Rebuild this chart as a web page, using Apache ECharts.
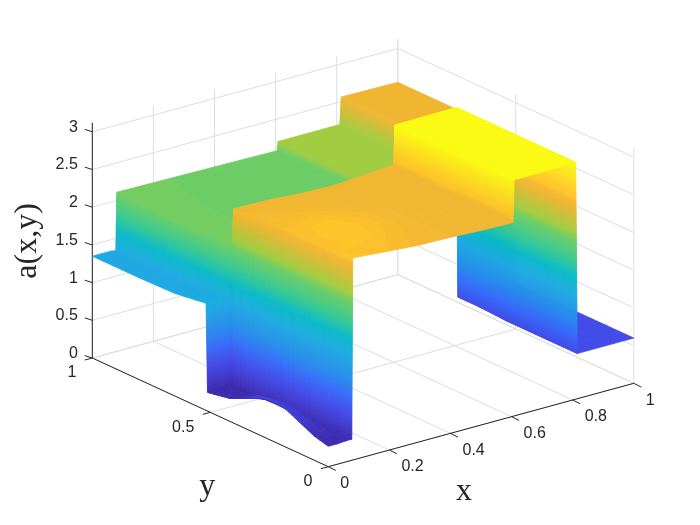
<!DOCTYPE html>
<html><head><meta charset="utf-8">
<style>html,body{margin:0;padding:0;background:#fff}#c{width:700px;height:525px}</style>
<script src="https://cdn.jsdelivr.net/npm/echarts@6/dist/echarts.min.js"></script>
</head><body><div id="c"></div>
<script>
// ---- data ----
const xGrid = [0, .03, .06, .077, .08, .2, .3, .4, .5, .605, .608, .81, .815, 1];
const yGrid = [0, .06, .12, .18, .25, .3, .35, .42, .47, .505, .512, .518, .65, .8, 1];
const heightRows = [
 [.27,.27,.28,.28, 2.68,2.64,2.61,2.6,2.58,2.57, 3.13,3.14, .6,.6],
 [.32,.31,.30,.28, 2.66,2.65,2.62,2.6,2.58,2.57, 3.13,3.14, .6,.6],
 [.41,.38,.34,.28, 2.65,2.67,2.63,2.6,2.58,2.57, 3.13,3.14, .6,.6],
 [.50,.45,.38,.28, 2.65,2.68,2.64,2.6,2.58,2.57, 3.13,3.14, .6,.6],
 [.53,.47,.40,.28, 2.65,2.67,2.63,2.6,2.58,2.57, 3.13,3.14, .6,.6],
 [.51,.45,.38,.28, 2.64,2.65,2.62,2.59,2.57,2.57, 3.13,3.14, .6,.6],
 [.40,.37,.33,.28, 2.63,2.63,2.6,2.58,2.57,2.57, 3.13,3.14, .61,.6],
 [.30,.29,.28,.28, 2.61,2.6,2.58,2.57,2.57,2.58, 3.13,3.14, .62,.6],
 [.27,.26,.27,.28, 2.6,2.58,2.57,2.56,2.57,2.59, 3.13,3.14, .62,.6],
 [.25,.25,.26,.28, 2.6,2.59,2.56,2.55,2.57,2.6, 3.13,3.14, .62,.6],
 [.25,.25,.26,.28, 2.1,2.1,2.1,2.1,2.09,2.09, 2.2,2.2, 2.55,2.55],
 [1.42,1.41,1.4,1.39, 2.1,2.1,2.1,2.1,2.09,2.09, 2.2,2.2, 2.55,2.55],
 [1.36,1.36,1.36,1.35, 2.1,2.1,2.1,2.09,2.09,2.085, 2.2,2.2, 2.55,2.55],
 [1.35,1.35,1.35,1.34, 2.105,2.1,2.095,2.09,2.085,2.08, 2.2,2.2, 2.56,2.55],
 [1.35,1.35,1.35,1.34, 2.11,2.103,2.097,2.092,2.086,2.08, 2.2,2.2, 2.56,2.55]
];
const xTicks = [0, .2, .4, .6, .8, 1];
const xTickLabels = ['0', '0.2', '0.4', '0.6', '0.8', '1'];
const yTicks = [0, .5, 1];
const yTickLabels = ['0', '0.5', '1'];
const zTicks = [0, .5, 1, 1.5, 2, 2.5, 3];
const zTickLabels = ['0', '0.5', '1', '1.5', '2', '2.5', '3'];
const zMax = 3.12;
const xName = 'x', yName = 'y', zName = 'a(x,y)';

// ---- colour scale and view ----
const colorZ = [.22,.4,.6,.85,1.05,1.37,1.6,1.8,2.1,2.2,2.4,2.55,2.6,2.67,2.85,3.13];
const colorRGB = [[58,38,165],[65,55,200],[68,75,232],[55,110,250],[40,140,235],[30,170,225],[10,185,200],[50,200,150],[110,205,100],[160,205,65],[205,190,55],[240,182,50],[242,183,50],[255,196,42],[252,215,35],[250,250,20]];
const O = [328.3, 466.7], VX = [305.5, -83.4], VY = [-236, -108.7], VZ = -75.4;
function project(x, y, z) {
  return [O[0] + VX[0] * x + VY[0] * y, O[1] + VX[1] * x + VY[1] * y + VZ * z];
}
function colorAt(z) {
  if (z <= colorZ[0]) return 'rgb(' + colorRGB[0] + ')';
  for (let i = 1; i < colorZ.length; i++) {
    if (z <= colorZ[i]) {
      const t = (z - colorZ[i - 1]) / (colorZ[i] - colorZ[i - 1]);
      const a = colorRGB[i - 1], b = colorRGB[i];
      return 'rgb(' + a.map((v, k) => Math.round(v + (b[k] - v) * t)).join(',') + ')';
    }
  }
  return 'rgb(' + colorRGB[colorRGB.length - 1] + ')';
}
// keep the part of a cell whose height is on one side of a level
function clip(poly, level, keepAbove) {
  const out = [];
  for (let i = 0; i < poly.length; i++) {
    const p = poly[i], q = poly[(i + 1) % poly.length];
    const pin = keepAbove ? p[2] >= level : p[2] <= level;
    const qin = keepAbove ? q[2] >= level : q[2] <= level;
    if (pin) out.push(p);
    if (pin !== qin) {
      const t = (level - p[2]) / (q[2] - p[2]);
      out.push([p[0] + (q[0] - p[0]) * t, p[1] + (q[1] - p[1]) * t, level]);
    }
  }
  return out;
}
const BAND = 0.02;
function bands(quad, api) {
  const zs = quad.map(p => p[2]);
  const lo = Math.min(...zs), hi = Math.max(...zs);
  const kids = [];
  const first = Math.floor(lo / BAND);
  for (let b = first; b * BAND < hi || b === first; b++) {
    const a0 = b * BAND, a1 = (b + 1) * BAND;
    let poly = clip(quad, a0, true);
    if (poly.length) poly = clip(poly, a1, false);
    if (poly.length < 3) continue;
    const col = colorAt((a0 + a1) / 2);
    kids.push({
      type: 'polygon', silent: true,
      shape: { points: poly.map(p => api.coord(project(p[0], p[1], p[2]))) },
      style: { fill: col, stroke: col, lineWidth: 0.8, lineJoin: 'bevel' }
    });
  }
  return kids;
}
// cells far-to-near so nearer ones paint over farther ones
const cells = [];
for (let i = xGrid.length - 2; i >= 0; i--)
  for (let j = yGrid.length - 2; j >= 0; j--) cells.push([i, j]);

function renderCell(params, api) {
  const i = api.value(0), j = api.value(1);
  const P = (a, b) => [xGrid[a], yGrid[b], heightRows[b][a]];
  return { type: 'group', children: bands([P(i, j), P(i + 1, j), P(i + 1, j + 1), P(i, j + 1)], api) };
}

// grid lines and axes, from the tick arrays
const GRID = '#dedede', AXIS = '#262626';
const segs = [];
function seg(a, b, color) { segs.push({ a, b, color }); }
xTicks.forEach(x => {
  seg([x, 0, 0], [x, 1, 0], GRID);
  seg([x, 1, 0], [x, 1, zMax], GRID);
});
yTicks.forEach(y => {
  seg([0, y, 0], [1, y, 0], GRID);
  seg([1, y, 0], [1, y, zMax], GRID);
});
zTicks.forEach(z => {
  seg([0, 1, z], [1, 1, z], GRID);
  seg([1, 1, z], [1, 0, z], GRID);
});
const axisSegs = [];
function aseg(a, b) { axisSegs.push({ a, b }); }
aseg([0, 0, 0], [1, 0, 0]);
aseg([0, 0, 0], [0, 1, 0]);
aseg([0, 1, 0], [0, 1, zMax]);

function renderGrid(params, api) {
  const s = segs[params.dataIndex];
  const a = api.coord(project(...s.a)), b = api.coord(project(...s.b));
  return { type: 'line', silent: true, shape: { x1: a[0], y1: a[1], x2: b[0], y2: b[1] }, style: { stroke: s.color, lineWidth: 1 } };
}
function renderAxes(params, api) {
  const kids = [];
  const L = (p, q) => kids.push({ type: 'line', silent: true, shape: { x1: p[0], y1: p[1], x2: q[0], y2: q[1] }, style: { stroke: AXIS, lineWidth: 1 } });
  const T = (p, dx, dy, text, align) => kids.push({ type: 'text', silent: true, x: p[0] + dx, y: p[1] + dy,
    style: { text, fill: AXIS, font: '16px "Liberation Sans"', align, verticalAlign: 'middle' } });
  axisSegs.forEach(s => L(api.coord(project(...s.a)), api.coord(project(...s.b))));
  xTicks.forEach((x, i) => {
    const p = api.coord(project(x, 0, 0));
    L(p, [p[0] + 7.5, p[1] + 3.8]);
    T(p, 12, 16.8, xTickLabels[i], 'left');
  });
  yTicks.forEach((y, i) => {
    const p = api.coord(project(0, y, 0));
    L(p, [p[0] - 7.5, p[1] + 2]);
    T(p, -16, 15, yTickLabels[i], 'right');
  });
  zTicks.forEach((z, i) => {
    const p = api.coord(project(0, 1, z));
    L(p, [p[0] - 7.5, p[1] - 2.4]);
    T(p, -14.5, -4.5, zTickLabels[i], 'right');
  });
  const N = (p, dx, dy, text, rot) => kids.push({ type: 'text', silent: true, x: p[0] + dx, y: p[1] + dy, rotation: rot || 0,
    style: { text, fill: AXIS, font: '32px "Liberation Serif"', align: 'center', verticalAlign: 'middle' } });
  N(api.coord(project(.5, 0, 0)), -17, 67, xName);
  N(api.coord(project(0, .5, 0)), -3, 74, yName);
  N(api.coord(project(0, 1, 1.5)), -65, -4, zName, Math.PI / 2);
  return { type: 'group', children: kids };
}

const chart = echarts.init(document.getElementById('c'), null, { renderer: 'canvas' });
chart.setOption({
  animation: false,
  backgroundColor: '#ffffff',
  grid: { left: 0, right: 0, top: 0, bottom: 0 },
  xAxis: { type: 'value', min: 0, max: 700, show: false },
  yAxis: { type: 'value', min: 0, max: 525, inverse: true, show: false },
  tooltip: { show: false },
  series: [
    { type: 'custom', silent: true, clip: false, z: 1, renderItem: renderGrid, data: segs.map((s, i) => [i, 0]) },
    { type: 'custom', silent: true, clip: false, z: 2, renderItem: renderAxes, data: [[0, 0]] },
    { type: 'custom', silent: true, clip: false, z: 3, renderItem: renderCell, data: cells, progressive: 0 }
  ]
});
</script></body></html>
